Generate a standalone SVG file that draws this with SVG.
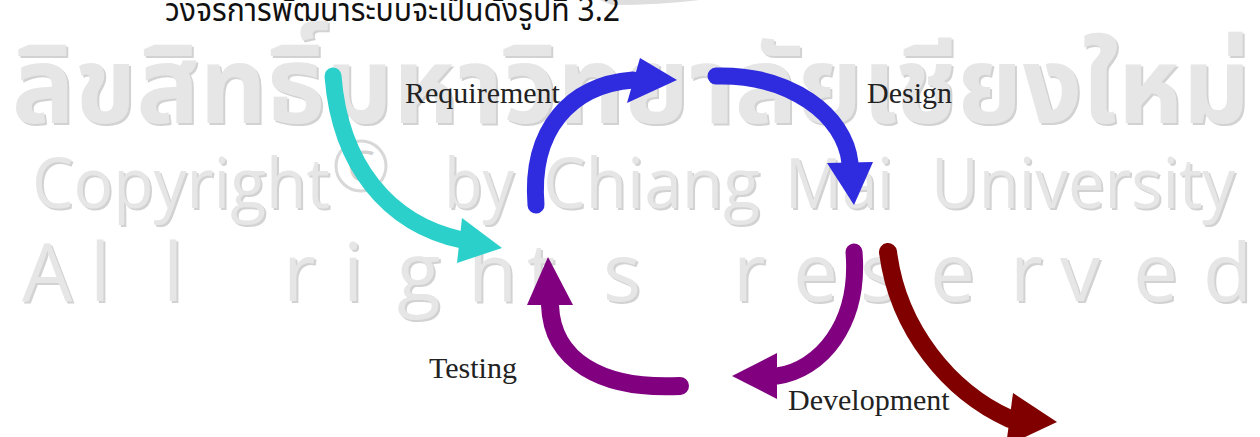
<svg xmlns="http://www.w3.org/2000/svg" width="1260" height="437" viewBox="0 0 1260 437">
<style>
.wm{font-family:"Open Sans","DejaVu Sans",sans-serif;fill:#e6e6e6}
.wms{font-family:"Open Sans","DejaVu Sans",sans-serif;fill:#d2d2d2}
.th{font-family:"Noto Sans Thai","Loma","Garuda","DejaVu Sans",sans-serif;font-weight:bold}
.lbl{font-family:"Liberation Serif","Times New Roman",serif;font-size:30px;fill:#222}
.shaft{fill:none;stroke-linecap:round;stroke-width:17}
.cy{stroke:#2bd0cb}.cyf{fill:#2bd0cb}
.bl{stroke:#2f2bde}.blf{fill:#2f2bde}
.pu{stroke:#800080}.puf{fill:#800080}
.dr{stroke:#800000}.drf{fill:#800000}
</style>
<rect width="1260" height="437" fill="#fff"/>
<g id="watermark">
  <path d="M600,0 L700,0 Q660,5 612,5 Z" fill="#dedede"/>
  <text class="wms th" x="14" y="125" font-size="107" textLength="1238" lengthAdjust="spacingAndGlyphs">ลิขสิทธิ์มหาวิทยาลัยเชียงใหม่</text>
  <text class="wm th" x="12" y="123" font-size="107" textLength="1238" lengthAdjust="spacingAndGlyphs">ลิขสิทธิ์มหาวิทยาลัยเชียงใหม่</text>
  <g font-size="70">
    <text class="wms" x="34" y="210" textLength="298" lengthAdjust="spacingAndGlyphs">Copyright</text>
    <text class="wm" x="32" y="208" textLength="298" lengthAdjust="spacingAndGlyphs">Copyright</text>
    <text class="wms" x="446" y="210" textLength="70" lengthAdjust="spacingAndGlyphs">by</text>
    <text class="wm" x="444" y="208" textLength="70" lengthAdjust="spacingAndGlyphs">by</text>
    <text class="wms" x="545" y="210" textLength="217" lengthAdjust="spacingAndGlyphs">Chiang</text>
    <text class="wm" x="543" y="208" textLength="217" lengthAdjust="spacingAndGlyphs">Chiang</text>
    <text class="wms" x="787" y="210" textLength="108" lengthAdjust="spacingAndGlyphs">Mai</text>
    <text class="wm" x="785" y="208" textLength="108" lengthAdjust="spacingAndGlyphs">Mai</text>
    <text class="wms" x="933" y="210" textLength="304" lengthAdjust="spacingAndGlyphs">University</text>
    <text class="wm" x="931" y="208" textLength="304" lengthAdjust="spacingAndGlyphs">University</text>
  </g>
  <circle cx="361" cy="166" r="25" fill="none" stroke="#d8d8d8" stroke-width="3"/>
  <text class="wms" x="361" y="182" font-size="44" text-anchor="middle">C</text>
  <g font-size="80">
    <text class="wms" x="24 92 165 285 345 399 470 529 605 735 795 862 932 1012 1062 1135 1205" y="303">Allrightsreserved</text>
    <text class="wm" x="22 90 163 283 343 397 468 527 603 733 793 860 930 1010 1060 1133 1203" y="301">Allrightsreserved</text>
  </g>
</g>
<text id="title" x="165" y="21" font-size="32" fill="#111" textLength="455" lengthAdjust="spacingAndGlyphs" style="font-family:'Noto Sans Thai','Loma','Garuda','DejaVu Sans',sans-serif">วงจรการพัฒนาระบบจะเป็นดังรูปที่ 3.2</text>
<g id="connectors">
  <g id="arrow-start">
    <path class="shaft cy" d="M333,76 C340,165 388,224 462,240"/>
    <polygon class="cyf" points="462,218 502,248 457,263"/>
  </g>
  <g id="arrow-req-design">
    <path class="shaft bl" d="M536,205 C530,130 570,85 633,80"/>
    <polygon class="blf" points="640,58 677,80 627,103"/>
  </g>
  <g id="arrow-design-dev">
    <path class="shaft bl" d="M716,76 C790,74 845,115 850,163"/>
    <polygon class="blf" points="827,163 873,162 854,205"/>
  </g>
  <g id="arrow-dev-test">
    <path class="shaft pu" d="M854,252 C860,325 820,370 777,376"/>
    <polygon class="puf" points="777,353 732,376 777,399"/>
  </g>
  <g id="arrow-test-req">
    <path class="shaft pu" d="M680,386 C600,390 552,360 550,305" style="stroke-width:18"/>
    <polygon class="puf" points="527,305 548,257 573,305"/>
  </g>
  <g id="arrow-out">
    <path class="shaft dr" d="M888,252 C898,330 950,392 1010,419" style="stroke-width:18"/>
    <polygon class="drf" points="1013,393 1057,422 1006,446"/>
  </g>
</g>
<g id="node-requirement"><text class="lbl" x="405" y="103">Requirement</text></g>
<g id="node-design"><text class="lbl" x="867" y="103">Design</text></g>
<g id="node-development"><text class="lbl" x="788" y="410">Development</text></g>
<g id="node-testing"><text class="lbl" x="429" y="378">Testing</text></g>
</svg>
